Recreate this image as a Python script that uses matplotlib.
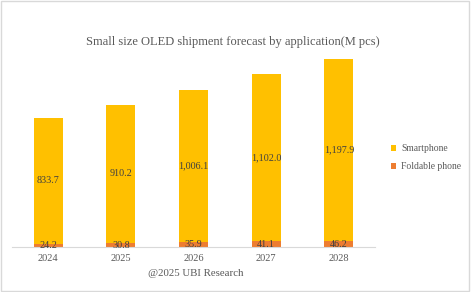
import matplotlib.pyplot as plt
import numpy as np
from matplotlib.patches import Rectangle

years = ['2024', '2025', '2026', '2027', '2028']
smartphone = [833.7, 910.2, 1006.1, 1102.0, 1197.9]
foldable = [24.2, 30.8, 35.9, 41.1, 46.2]

c_smart = '#FFC000'
c_fold = '#ED7D31'
txt = '#404040'

plt.rcParams['font.family'] = ['Liberation Serif', 'DejaVu Serif']

fig = plt.figure(figsize=(4.71, 2.92), dpi=100)
ax = fig.add_axes([0.0255, 0.1524, 0.771, 0.726])

x = np.arange(len(years))
w = 0.4
ax.bar(x, foldable, w, color=c_fold, label='Foldable phone', zorder=2)
ax.bar(x, smartphone, w, bottom=foldable, color=c_smart, label='Smartphone', zorder=2)

for i in range(len(years)):
    ax.text(x[i], foldable[i] / 2, f'{foldable[i]:,.1f}', ha='center', va='center',
            fontsize=7.3, color=txt, zorder=3)
    ax.text(x[i], foldable[i] + smartphone[i] / 2, f'{smartphone[i]:,.1f}', ha='center',
            va='center', fontsize=7.3, color=txt, zorder=3)

ax.set_xlim(-0.5, 4.5)
ax.set_ylim(0, 1400)
ax.set_xticks(x)
ax.set_xticklabels(years, fontsize=7.5, color='#595959')
ax.tick_params(axis='x', length=0, pad=5)
ax.set_yticks([])
for s in ['top', 'right', 'left']:
    ax.spines[s].set_visible(False)
ax.spines['bottom'].set_color('#D9D9D9')
ax.spines['bottom'].set_linewidth(0.8)

fig.text(0.495, 0.855, 'Small size OLED shipment forecast by application(M pcs)',
         fontsize=9, color='#595959', ha='center', va='center')

# legend
h, l = ax.get_legend_handles_labels()
leg = fig.legend(h[::-1], l[::-1], loc='center left', bbox_to_anchor=(0.83, 0.46),
                 frameon=False, fontsize=6.9, handlelength=0.55, handleheight=0.55,
                 handletextpad=0.5, labelspacing=0.95, borderaxespad=0, borderpad=0)
for t in leg.get_texts():
    t.set_color('#595959')

fig.text(0.315, 0.065, '@2025 UBI Research', fontsize=7.8, color='#595959', ha='left', va='center')

fig.patches.append(Rectangle((0.002, 0.004), 0.994, 0.992, transform=fig.transFigure,
                             fill=False, edgecolor='#D9D9D9', linewidth=1))

fig.savefig('out.png', dpi=100)
